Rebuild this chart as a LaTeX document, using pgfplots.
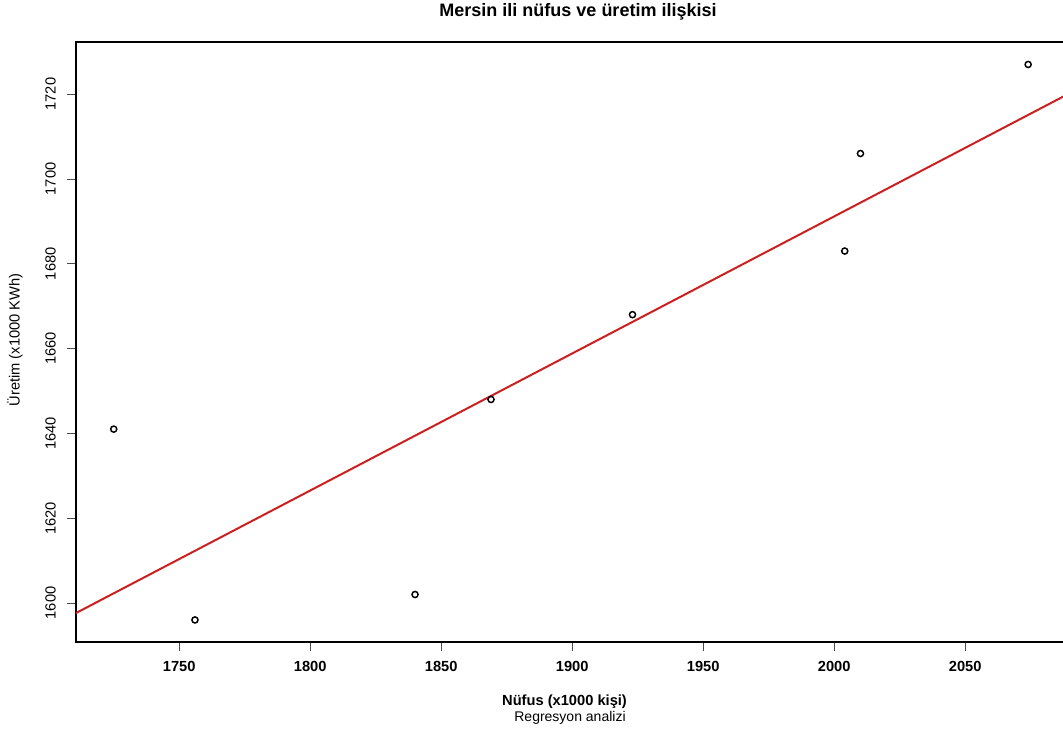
\documentclass[border=0pt]{standalone}
\usepackage{pgfplots}
\pgfplotsset{compat=1.18}
\usepackage{fontspec}
\setmainfont{Liberation Sans}
\definecolor{rline}{HTML}{CC2020}
\begin{document}
\begin{tikzpicture}
\useasboundingbox (0,0) rectangle (797.25pt,550.5pt);
\begin{axis}[
  at={(57pt,69pt)}, anchor=south west,
  width=753pt, height=450pt, scale only axis,
  xmin=1710.6, xmax=2093.8, ymin=1590.8, ymax=1732.3,
  xtick={1750,1800,1850,1900,1950,2000,2050},
  ytick={1600,1620,1640,1660,1680,1700,1720},
  axis line style={line width=1.2pt},
  tick align=outside, major tick length=6.5pt,
  tick style={line width=0.6pt, black!70},
  xtick pos=bottom, ytick pos=left,
  /pgf/number format/assume math mode=true,
  /pgf/number format/set thousands separator={},
  xticklabel style={font=\fontsize{11}{13}\selectfont\bfseries, anchor=center, yshift=-11.5pt},
  yticklabel style={font=\fontsize{11}{13}\selectfont, anchor=center, xshift=-12.5pt, rotate=90},
  clip=true,
]
\addplot[rline, line width=1.5pt] coordinates {(1700,1594.2) (2100,1723.5)};
\addplot[only marks, mark=o, mark size=2.3pt, mark options={line width=1.1pt, black}] coordinates {
(1725,1641) (1756,1596) (1840,1602) (1869,1648) (1923,1668) (2004,1683) (2010,1706) (2074,1727)};
\end{axis}
\node[font=\fontsize{13.5}{16}\selectfont\bfseries] at (433.5pt,541.5pt) {Mersin ili nüfus ve üretim ilişkisi};
\node[font=\fontsize{11}{13}\selectfont, rotate=90] at (11.25pt,295.5pt) {Üretim (x1000 KWh)};
\node[font=\fontsize{11}{13}\selectfont\bfseries] at (423.4pt,24pt) {Nüfus (x1000 kişi)};
\node[font=\fontsize{10.5}{12}\selectfont] at (427.5pt,12pt) {Regresyon analizi};
\end{tikzpicture}
\end{document}
